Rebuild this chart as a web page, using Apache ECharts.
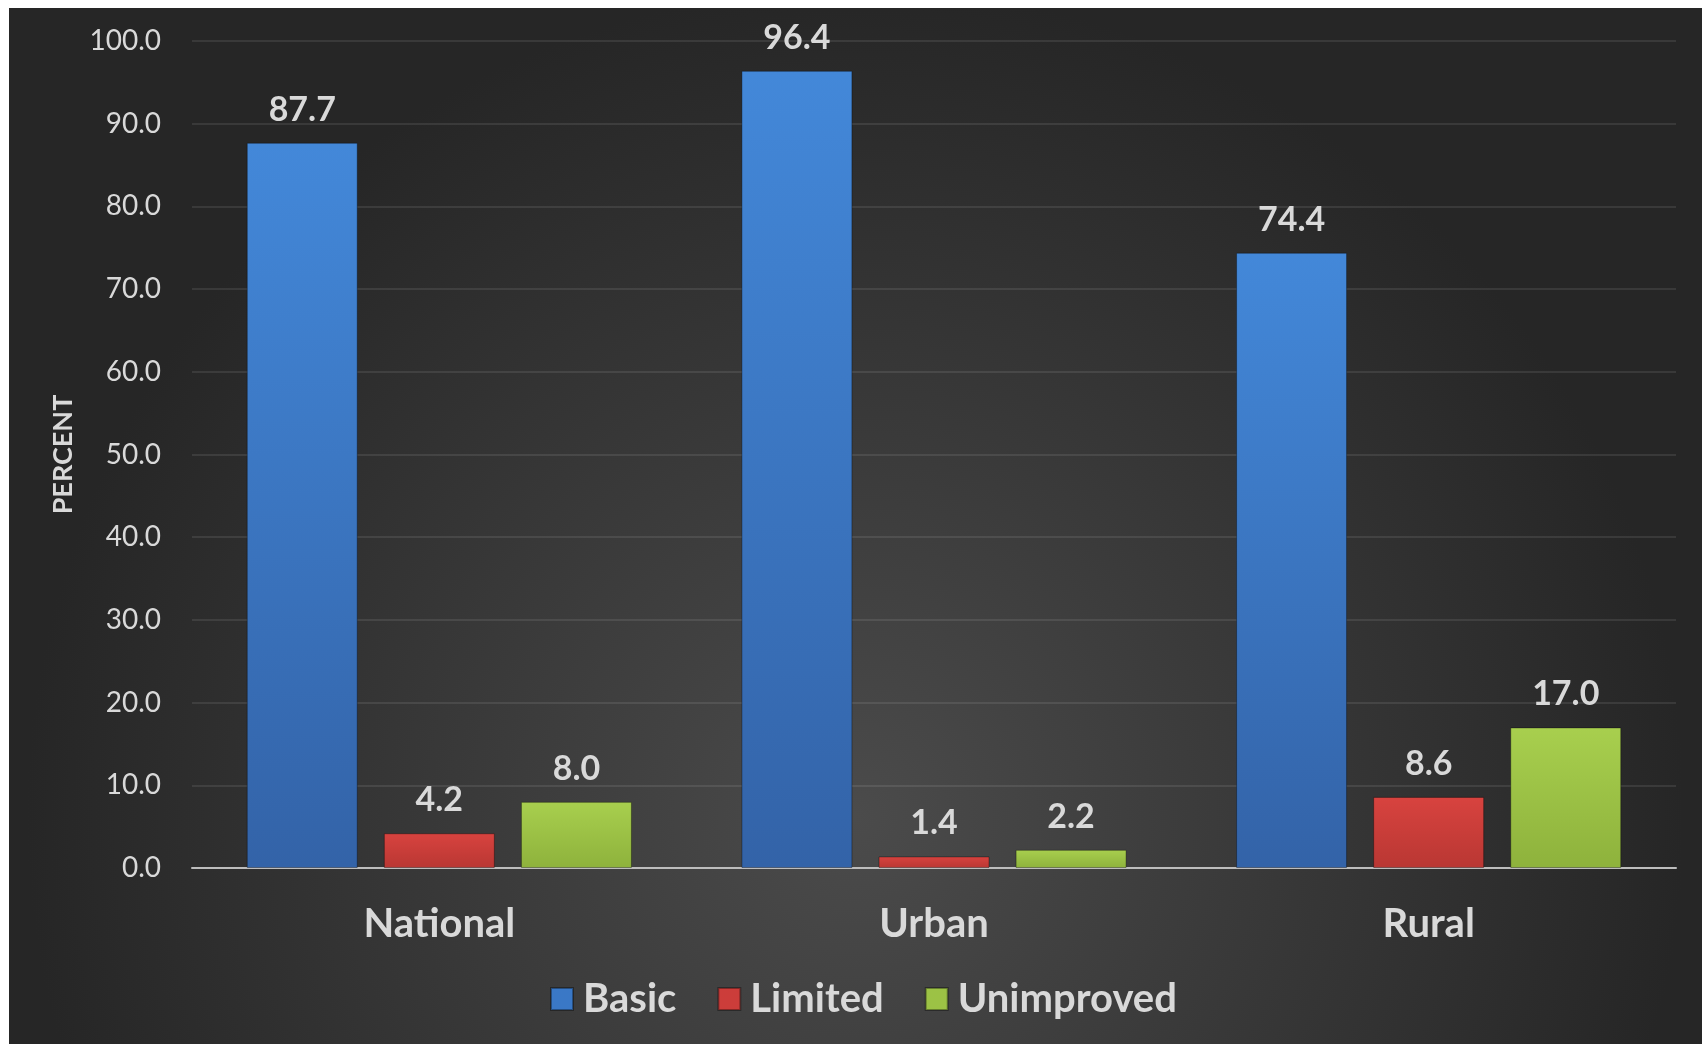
<!DOCTYPE html>
<html>
<head>
<meta charset="utf-8">
<script src="https://cdn.jsdelivr.net/npm/echarts@6/dist/echarts.min.js"></script>
<style>
html,body{margin:0;padding:0;background:#ffffff;width:1702px;height:1044px;overflow:hidden;}
#chart{position:absolute;left:9px;top:8px;width:1693px;height:1036px;}
</style>
</head>
<body>
<div id="chart"></div>
<script>
const categories = ['National', 'Urban', 'Rural'];
const basic = [87.7, 96.4, 74.4];
const limited = [4.2, 1.4, 8.6];
const unimproved = [8.0, 2.2, 17.0];
const seriesNames = ['Basic', 'Limited', 'Unimproved'];
const yTicks = { min: 0, max: 100, interval: 10 };

const FONT = 'Lato, "Open Sans", sans-serif';
const TXT = '#d9d9d9';

function grad(top, bottom) {
  return new echarts.graphic.LinearGradient(0, 0, 0, 1, [
    { offset: 0, color: top },
    { offset: 1, color: bottom }
  ]);
}
const fills = [
  grad('#4388d9', '#3363a8'),
  grad('#d8433f', '#b93733'),
  grad('#a8cf4e', '#8eb23c')
];
const legendFills = ['#3a78c6', '#cc3d3a', '#9cc245'];

function mkSeries(name, data, i) {
  return {
    name: name,
    type: 'bar',
    data: data,
    barWidth: 111,
    barGap: '23.5%',
    itemStyle: { color: fills[i], borderColor: 'rgba(0,0,0,0.35)', borderWidth: 1 },
    label: {
      show: true, position: 'top', distance: 16,
      formatter: p => p.value.toFixed(1),
      color: TXT, fontFamily: FONT, fontWeight: 'bold', fontSize: 34
    }
  };
}

const chart = echarts.init(document.getElementById('chart'), null, { renderer: 'canvas' });
chart.setOption({
  animation: false,
  backgroundColor: {
    type: 'radial', x: 0.5, y: 0.78, r: 0.8,
    colorStops: [{ offset: 0, color: '#4b4b4b' }, { offset: 1, color: '#262626' }]
  },
  grid: { left: 183, right: 26, top: 33, bottom: 176, containLabel: false },
  legend: {
    left: 536, top: 966,
    icon: 'rect', itemWidth: 22, itemHeight: 22, itemGap: 41,
    textStyle: { color: TXT, fontFamily: FONT, fontWeight: 'bold', fontSize: 40, padding: [0, 0, 0, 5] },
    data: seriesNames.map((n, i) => ({ name: n, itemStyle: { color: legendFills[i] } }))
  },
  xAxis: {
    type: 'category', data: categories,
    axisLine: { lineStyle: { color: '#bdbdbd', width: 2 } },
    axisTick: { show: false },
    axisLabel: { color: TXT, fontFamily: FONT, fontWeight: 'bold', fontSize: 40, margin: 36 }
  },
  yAxis: {
    type: 'value', min: yTicks.min, max: yTicks.max, interval: yTicks.interval,
    name: 'PERCENT', nameLocation: 'middle', nameGap: 115,
    nameTextStyle: { color: TXT, fontFamily: FONT, fontWeight: 'bold', fontSize: 27 },
    axisLine: { show: false }, axisTick: { show: false },
    axisLabel: { color: TXT, fontFamily: FONT, fontSize: 28, margin: 31, formatter: v => v.toFixed(1) },
    splitLine: { lineStyle: { color: 'rgba(255,255,255,0.12)', width: 1.5 } }
  },
  series: [
    mkSeries(seriesNames[0], basic, 0),
    mkSeries(seriesNames[1], limited, 1),
    mkSeries(seriesNames[2], unimproved, 2)
  ]
});
</script>
</body>
</html>
